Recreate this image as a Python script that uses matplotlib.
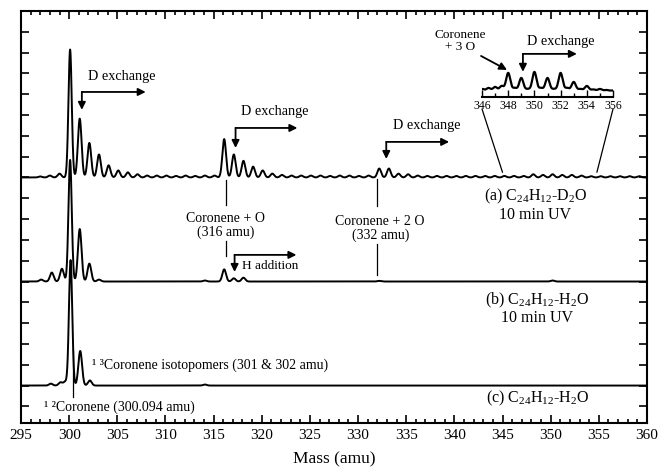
import numpy as np
import matplotlib
matplotlib.use("Agg")
import matplotlib.pyplot as plt
from matplotlib.patches import ConnectionPatch
from matplotlib.ticker import MultipleLocator

plt.rcParams['font.family'] = ['Liberation Serif', 'DejaVu Serif']
plt.rcParams['mathtext.fontset'] = 'custom'
plt.rcParams['mathtext.rm'] = 'Liberation Serif'
plt.rcParams['mathtext.it'] = 'Liberation Serif:italic'

# peak lists (mass in amu, intensity in % of the 300 amu peak of trace a)
mass_a = [297, 298, 299, 300.1, 301.1, 302.1, 303.1, 304.1, 305.1, 306.1, 307.1,
          308.1, 309.1, 310.1, 311.1, 312.1, 313.1, 314.1, 315.1,
          316.1, 317.1, 318.1, 319.1, 320.1, 321.1, 322.1, 323.1, 324.1, 325.1,
          326.1, 327.1, 328.1, 329.1, 330.1, 331.1, 332.2, 333.2, 334.2, 335.2,
          336.2, 337.2, 338.2, 339.2, 340.2, 341.2, 342.2, 343.2, 344.2, 345.2,
          346.2, 347.2, 348.2, 349.2, 350.2, 351.2, 352.2, 353.2, 354.2, 355.2,
          356.2, 357.2, 358.2, 359.2]
int_a = [0.8, 1.5, 3, 100, 46, 27, 18, 9.5, 5.5, 4, 2.5,
         1.5, 1.5, 1.5, 1.2, 1.5, 1.2, 1.5, 1.5,
         30, 18, 13, 8.5, 5.5, 3, 2, 1.5, 1.5, 1.5,
         1.5, 1.2, 1.5, 1.5, 1.2, 1.5, 7, 7, 3, 2.5,
         1.5, 1.2, 1.2, 1.2, 1.2, 1.2, 1.2, 1.2, 1.2, 1.2,
         1.2, 1.2, 2.5, 2, 2.5, 2, 2, 1.5, 1, 1,
         1, 1, 1, 1]

mass_b = [297.1, 298.2, 299.25, 300.1, 301.1, 302.1, 303.1, 314.1, 316.1, 317.1, 318.1, 332.2, 350.2]
int_b = [1.5, 7, 10, 95, 41, 14, 1.5, 0.8, 9.5, 2.5, 3, 0.5, 0.8]

mass_c = [298.1, 299.1, 299.6, 300.15, 301.15, 302.15, 314.1]
int_c = [1.5, 2.5, 3, 98, 27, 4, 0.8]

# inset: 346-356 amu of trace a, heights above the inset axis (arb.)
mass_in = [346, 346.5, 347, 347.5, 348, 348.5, 349, 349.5, 350, 350.5, 351,
           351.5, 352, 352.5, 353, 353.5, 354, 354.5, 355, 355.5, 356]
int_in = [2, 3, 4, 5, 18, 3, 13, 2, 19, 3, 13,
          2, 18, 3, 9, 2, 5, 1.5, 2, 1, 0.5]
inset_level = 6

base_a, base_b, base_c = 11, 6, 1
scale = 0.0615


def spectrum(x, masses, heights, sigma=0.19):
    y = np.zeros_like(x)
    for m, h in zip(masses, heights):
        # the big parent peaks are a bit narrower than the rest
        s = 0.17 if h > 60 else sigma
        y += h * np.exp(-0.5 * ((x - m) / s) ** 2)
    return y


def elbow(ax, corner, xend, yend):
    kw = dict(arrowstyle='-|>', color='k', lw=1.3, mutation_scale=11, shrinkA=0, shrinkB=0)
    ax.annotate('', xy=(xend, corner[1]), xytext=corner, arrowprops=kw)
    ax.annotate('', xy=(corner[0], yend), xytext=corner, arrowprops=kw)


fig = plt.figure(figsize=(6.62, 4.73), dpi=100)
ax = fig.add_axes([0.0317, 0.1057, 0.9456, 0.871])

x = np.linspace(295, 360, 7000)
ax.plot(x, base_a + scale * spectrum(x, mass_a, int_a), color='k', lw=1.4)
ax.plot(x, base_b + scale * spectrum(x, mass_b, int_b), color='k', lw=1.4)
ax.plot(x, base_c + scale * spectrum(x, mass_c, int_c), color='k', lw=1.4)

ax.set_xlim(295, 360)
ax.set_ylim(-0.8, 19)
ax.xaxis.set_major_locator(MultipleLocator(5))
ax.xaxis.set_minor_locator(MultipleLocator(1))
ax.set_yticks(np.arange(0, 19))
ax.set_yticklabels([])
ax.tick_params(which='both', direction='in', top=True, right=True, width=1.2)
ax.tick_params(which='major', length=6, labelsize=11, pad=4)
ax.tick_params(which='minor', length=3)
for s in ax.spines.values():
    s.set_linewidth(1.5)
ax.set_xlabel('Mass (amu)', fontsize=12.5, labelpad=7)

# arrows and labels, trace a
ax.text(305.5, 15.83, 'D exchange', fontsize=10.3, ha='center', va='center')
elbow(ax, (301.32, 15.11), 307.95, 14.25)
ax.text(321.4, 14.15, 'D exchange', fontsize=10.3, ha='center', va='center')
elbow(ax, (317.28, 13.38), 323.7, 12.42)
ax.text(337.1, 13.48, 'D exchange', fontsize=10.3, ha='center', va='center')
elbow(ax, (332.93, 12.71), 339.46, 11.89)
ax.text(351.06, 17.52, 'D exchange', fontsize=10.3, ha='center', va='center')
elbow(ax, (347.12, 16.94), 352.72, 16.08)
ax.text(340.6, 17.55, 'Coronene\n+ 3 O', fontsize=9.5, ha='center', va='center', linespacing=0.95)
ax.annotate('', xy=(345.47, 16.17), xytext=(342.77, 16.84),
            arrowprops=dict(arrowstyle='-|>', color='k', lw=1.3, mutation_scale=11, shrinkA=0, shrinkB=0))

ax.text(316.24, 8.7, 'Coronene + O\n(316 amu)', fontsize=10, ha='center', va='center', linespacing=1.0)
ax.plot([316.24, 316.24], [10.88, 9.68], color='k', lw=0.9)
ax.plot([316.24, 316.24], [7.95, 7.23], color='k', lw=0.9)
ax.text(332.3, 8.55, 'Coronene + 2 O\n(332 amu)', fontsize=10, ha='center', va='center', linespacing=1.0)
ax.plot([332.0, 332.0], [10.93, 9.63], color='k', lw=0.9)
ax.plot([332.0, 332.0], [7.81, 6.32], color='k', lw=0.9)

ax.text(348.4, 10.07, r'(a) C$_{\mathrm{24}}$H$_{\mathrm{12}}$-D$_{\mathrm{2}}$O', fontsize=11.5, ha='center', va='center')
ax.text(348.4, 9.2, '10 min UV', fontsize=11.5, ha='center', va='center')

# trace b
elbow(ax, (317.18, 7.28), 323.6, 6.46)
ax.text(317.9, 6.75, 'H addition', fontsize=9.5, ha='left', va='center')
ax.text(348.6, 5.11, r'(b) C$_{\mathrm{24}}$H$_{\mathrm{12}}$-H$_{\mathrm{2}}$O', fontsize=11.5, ha='center', va='center')
ax.text(348.6, 4.25, '10 min UV', fontsize=11.5, ha='center', va='center')

# trace c
ax.text(302.36, 1.99, '¹ ³Coronene isotopomers (301 & 302 amu)', fontsize=10, ha='left', va='center')
ax.plot([300.35, 300.35], [2.71, 0.45], color='k', lw=0.9)
ax.text(297.38, -0.03, '¹ ²Coronene (300.094 amu)', fontsize=10, ha='left', va='center')
ax.text(348.6, 0.4, r'(c) C$_{\mathrm{24}}$H$_{\mathrm{12}}$-H$_{\mathrm{2}}$O', fontsize=11.5, ha='center', va='center')

# inset
axin = fig.add_axes([0.7281, 0.795, 0.1979, 0.0677])
xi = np.linspace(346, 356, 1500)
axin.plot(xi, inset_level + spectrum(xi, mass_in, int_in, sigma=0.16), color='k', lw=1.6)
axin.set_xlim(346, 356)
axin.set_ylim(0, 32)
axin.patch.set_alpha(0)
for side in ['top', 'left', 'right']:
    axin.spines[side].set_visible(False)
axin.spines['bottom'].set_linewidth(1.5)
axin.set_yticks([])
axin.xaxis.set_major_locator(MultipleLocator(2))
axin.xaxis.set_minor_locator(MultipleLocator(1))
axin.tick_params(which='both', direction='in', width=1.0)
axin.tick_params(which='major', length=5, labelsize=8.5, pad=2)
axin.tick_params(which='minor', length=3)

for xa, xb in [(346, 345.0), (356, 354.8)]:
    con = ConnectionPatch(xyA=(xa, -12), coordsA=axin.transData,
                          xyB=(xb, 11.25), coordsB=ax.transData, color='k', lw=0.9)
    fig.add_artist(con)

fig.savefig('out.png', dpi=100)
